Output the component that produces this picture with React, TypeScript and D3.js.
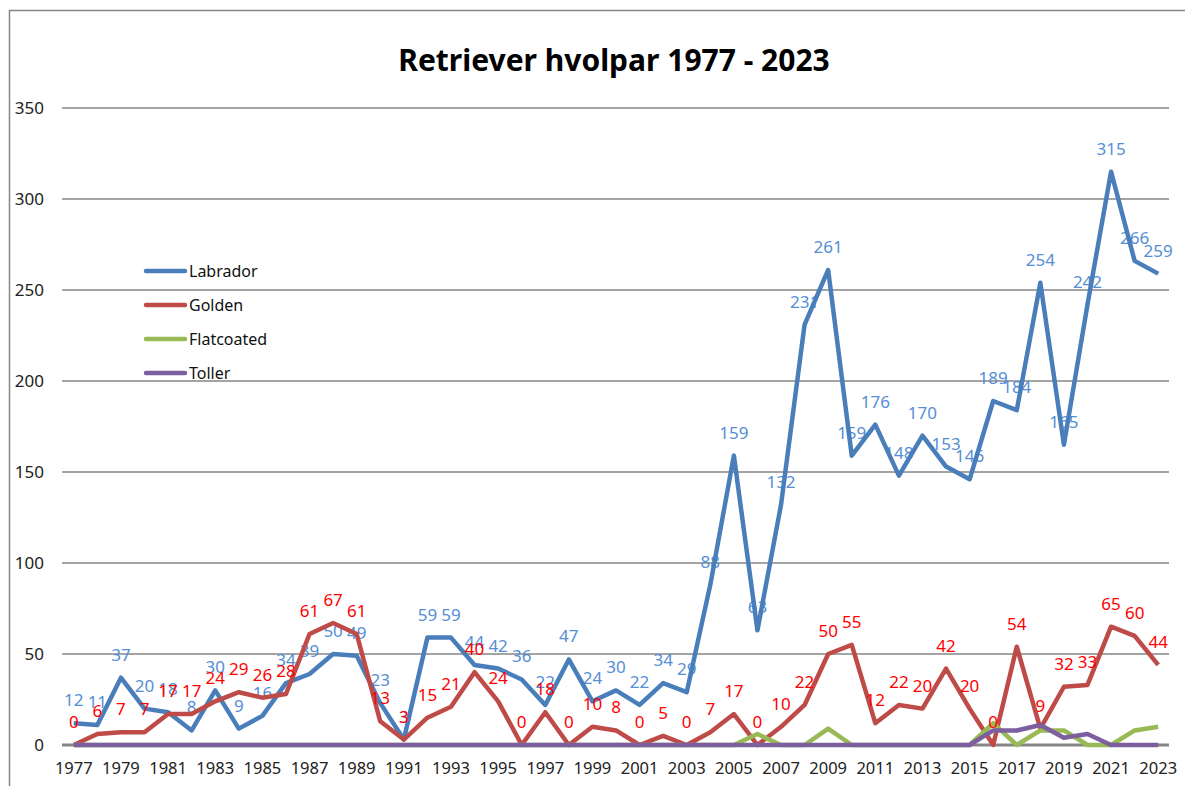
import React from "react";
import * as d3 from "d3";

const years: number[] = d3.range(1977, 2024);
const labrador: number[] = [12, 11, 37, 20, 18, 8, 30, 9, 16, 34, 39, 50, 49, 23, 3, 59, 59, 44, 42, 36, 22, 47, 24, 30, 22, 34, 29, 88, 159, 63, 132, 231, 261, 159, 176, 148, 170, 153, 146, 189, 184, 254, 165, 242, 315, 266, 259];
const golden: number[] = [0, 6, 7, 7, 17, 17, 24, 29, 26, 28, 61, 67, 61, 13, 3, 15, 21, 40, 24, 0, 18, 0, 10, 8, 0, 5, 0, 7, 17, 0, 10, 22, 50, 55, 12, 22, 20, 42, 20, 0, 54, 9, 32, 33, 65, 60, 44];
const flatcoated: number[] = [0, 0, 0, 0, 0, 0, 0, 0, 0, 0, 0, 0, 0, 0, 0, 0, 0, 0, 0, 0, 0, 0, 0, 0, 0, 0, 0, 0, 0, 6, 0, 0, 9, 0, 0, 0, 0, 0, 0, 12, 0, 8, 8, 0, 0, 8, 10];
const toller: number[] = [0, 0, 0, 0, 0, 0, 0, 0, 0, 0, 0, 0, 0, 0, 0, 0, 0, 0, 0, 0, 0, 0, 0, 0, 0, 0, 0, 0, 0, 0, 0, 0, 0, 0, 0, 0, 0, 0, 0, 8, 8, 11, 4, 6, 0, 0, 0];
const yTicks: number[] = [0, 50, 100, 150, 200, 250, 300, 350];
const xTickYears: number[] = years.filter((y) => (y - 1977) % 2 === 0);
const seriesNames: string[] = ["Labrador", "Golden", "Flatcoated", "Toller"];
const seriesColors: string[] = ["#4A7EBB", "#BE4B48", "#98B954", "#7D5FA0"];

const W = 1185;
const H = 786;
const FONT = "'Noto Sans', 'DejaVu Sans', sans-serif";

export default function App() {
  const x = d3.scaleBand<number>().domain(years).range([62, 1170]).padding(0);
  const cx = (yr: number) => (x(yr) as number) + x.bandwidth() / 2;
  const y = d3.scaleLinear().domain([0, 350]).range([745, 108]);
  const line = d3
    .line<number>()
    .x((_, i) => cx(years[i]))
    .y((d) => y(d));
  const allSeries = [labrador, golden, flatcoated, toller];

  return (
    <svg
      width={W}
      height={H}
      style={{ position: "absolute", left: 0, top: 0, background: "#fff" }}
      fontFamily={FONT}
    >
      <rect x={0} y={0} width={W} height={H} fill="#fff" />
      <rect x={9.5} y={10.5} width={1250} height={850} fill="none" stroke="#868686" strokeWidth={1.5} />
      <text x={614} y={71} textAnchor="middle" fontSize={30} fontWeight="bold" fill="#000">
        Retriever hvolpar 1977 - 2023
      </text>
      {yTicks.map((t) => (
        <g key={t}>
          {t > 0 && (
            <line x1={62} x2={1169} y1={y(t)} y2={y(t)} stroke="#868686" strokeWidth={1.5} />
          )}
          <text x={44} y={y(t) + 6} textAnchor="end" fontSize={17} fill="#222">
            {t}
          </text>
        </g>
      ))}
      <line x1={62} x2={1169} y1={y(0)} y2={y(0)} stroke="#868686" strokeWidth={3} />
      {xTickYears.map((yr) => (
        <text key={yr} x={cx(yr)} y={774} textAnchor="middle" fontSize={16.5} fill="#222">
          {yr}
        </text>
      ))}
      {labrador.map((v, i) => (
        <text key={"l" + i} x={cx(years[i])} y={y(v) - 17} textAnchor="middle" fontSize={17} fill="#558ED5">
          {v}
        </text>
      ))}
      {allSeries.map((s, k) => (
        <path
          key={seriesNames[k]}
          d={line(s) as string}
          fill="none"
          stroke={seriesColors[k]}
          strokeWidth={4.5}
          strokeLinejoin="round"
        />
      ))}
      {golden.map((v, i) => (
        <text key={"g" + i} x={cx(years[i])} y={y(v) - 17} textAnchor="middle" fontSize={17} fill="#FF0000">
          {v}
        </text>
      ))}
      {seriesNames.map((n, k) => (
        <g key={n}>
          <line x1={146} x2={185} y1={271 + k * 34} y2={271 + k * 34} stroke={seriesColors[k]} strokeWidth={4.5} strokeLinecap="round" />
          <text x={189} y={277 + k * 34} fontSize={16} fill="#111">
            {n}
          </text>
        </g>
      ))}
    </svg>
  );
}
